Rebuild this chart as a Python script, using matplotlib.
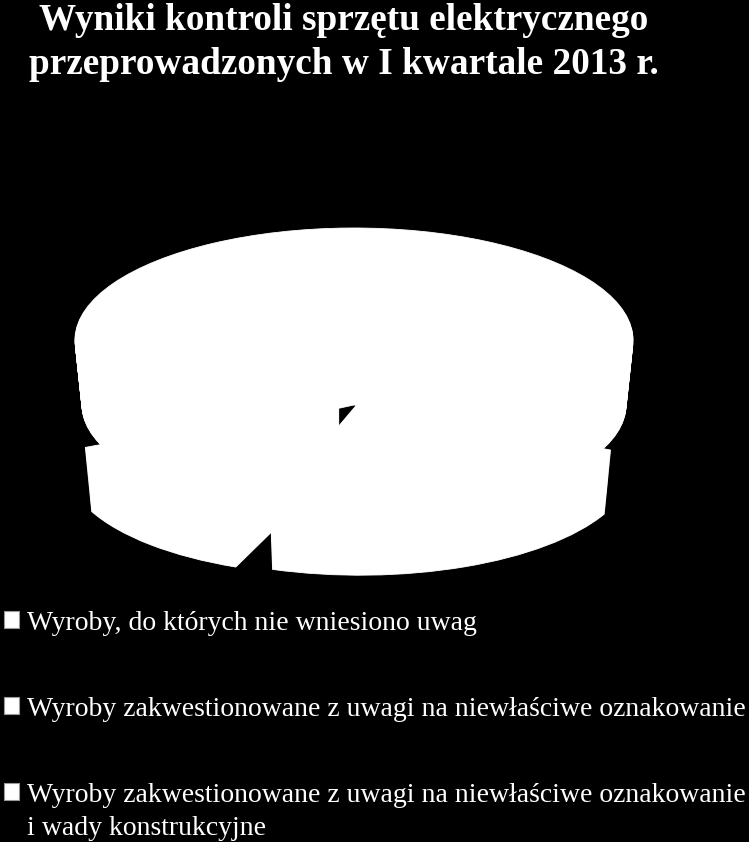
import matplotlib
matplotlib.use("Agg")
import matplotlib.pyplot as plt
from matplotlib.patches import Patch

title_text = "Wyniki kontroli sprzętu elektrycznego\nprzeprowadzonych w I kwartale 2013 r."
categories = ["Wyroby, do których nie wniesiono uwag",
              "Wyroby zakwestionowane z uwagi na niewłaściwe oznakowanie",
              "Wyroby zakwestionowane z uwagi na niewłaściwe oznakowanie\ni wady konstrukcyjne"]
values = [65, 12, 23]

W, H = 749, 842
RX, RY = 279.0, 112.0
CX0, CY0 = 354.0, 340.0
START = -26
DEPTH = 65
TAPER = 0.025
# pixel displacement and rotation of each exploded slice
offsets = [(0, 0), (-15, 61), (6, 61)]
rotations = [0, -3.5, 0]

fig = plt.figure(figsize=(W / 100, H / 100), dpi=100, facecolor="black")
ax = fig.add_axes([0, 0, 1, 1])
ax.set_facecolor("black")

for i, ((ox, oy), rot) in enumerate(zip(offsets, rotations)):
    for level in range(0, DEPTH + 1, 1):
        c = (ox / RX, -(oy + level) / RY)
        wedges, _ = ax.pie(values, startangle=START + rot, center=c,
                           radius=1 - TAPER * level / DEPTH,
                           colors=["white"] * 3,
                           wedgeprops=dict(linewidth=0.6, edgecolor="white"))
        for j, w in enumerate(wedges):
            w.set_visible(j == i)

ax.set_aspect("auto")
ax.set_xlim(-CX0 / RX, (W - CX0) / RX)
ax.set_ylim(-(H - CY0) / RY, CY0 / RY)
ax.axis("off")

fig.text(0.459, 1 - 42.5 / H, title_text, color="white", ha="center", va="center",
         family="Liberation Serif", fontweight="bold", fontsize=26.8, linespacing=1.33)

handles = [Patch(facecolor="white", edgecolor="#999999", linewidth=0.8) for _ in categories]
leg = fig.legend(handles, categories, loc="upper left", bbox_to_anchor=(4 / W, 1 - 611 / H),
                 frameon=False, labelcolor="white",
                 prop={"family": "Liberation Serif", "size": 20},
                 handlelength=0.54, handleheight=0.54, handletextpad=0.3,
                 labelspacing=2.2, borderaxespad=0, borderpad=0)
leg.get_texts()[2].set_linespacing(1.4)
for row in leg._legend_handle_box.get_children()[0].get_children():
    row.align = "top"

fig.savefig("out.png", dpi=100, facecolor="black")
